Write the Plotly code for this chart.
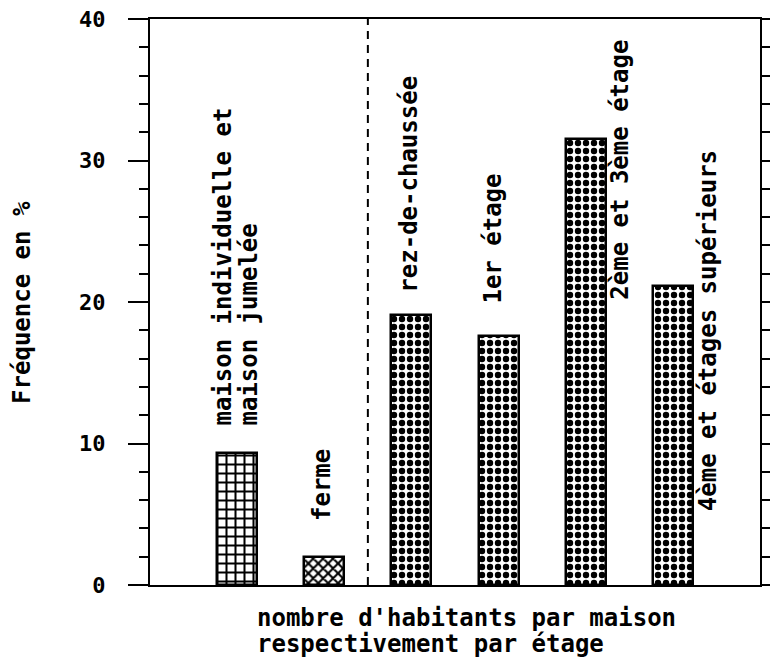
import plotly.graph_objects as go

# ---- data ----
categories = ["maison individuelle et maison jumelée", "ferme", "rez-de-chaussée",
              "1er étage", "2ème et 3ème étage", "4ème et étages supérieurs"]
frequencies = [9.3, 2.0, 19.1, 17.6, 31.5, 21.1]
y_ticks = [0, 10, 20, 30, 40]
y_title = "Fréquence en %"
x_title_lines = ["nombre d'habitants par maison", "respectivement par étage"]
separator_at = 1.5

FONT = "DejaVu Sans Mono"
FS = 24
fnt = dict(family=FONT, size=FS, color="black", weight="bold")

positions = list(range(len(categories)))
patterns = ["+", "x", ".", ".", ".", "."]
pat_sizes = [9, 7, 8, 8, 8, 8]
pat_sol = [0.4, 0.5, 0.5, 0.5, 0.5, 0.5]

fig = go.Figure()
fig.add_trace(go.Bar(
    x=positions, y=frequencies, width=0.46,
    marker=dict(color="white",
                line=dict(color="black", width=2.5),
                pattern=dict(shape=patterns, size=pat_sizes, solidity=pat_sol,
                             fgcolor="black", bgcolor="white", fillmode="replace")),
    hovertext=categories, showlegend=False,
))
fig.add_trace(go.Scatter(x=[None], y=[None], yaxis="y2", showlegend=False))

# bar labels: (text, index, anchor y, xshift, yshift)
label_cfg = [
    ("maison individuelle et", 0, frequencies[0], -14, 26),
    ("maison jumelée", 0, frequencies[0], 12, 26),
    ("ferme", 1, frequencies[1], -3, 34),
    ("rez-de-chaussée", 2, frequencies[2], -2, 20),
    ("1er étage", 3, frequencies[3], -6, 30),
    ("2ème et 3ème étage", 4, 20.0, 34, 0),
    ("4ème et étages supérieurs", 5, 5.1, 35, 0),
]
for text, i, yv, xs, ys in label_cfg:
    fig.add_annotation(x=positions[i], y=yv, text=text, textangle=-90,
                       xanchor="center", yanchor="bottom",
                       xshift=xs, yshift=ys, showarrow=False, font=fnt)

fig.add_annotation(xref="paper", yref="paper", x=-0.21, y=0.5, text=y_title,
                   textangle=-90, showarrow=False, xanchor="center", yanchor="middle",
                   font=fnt)
for line, yp in zip(x_title_lines, [-0.059, -0.105]):
    fig.add_annotation(xref="paper", yref="paper", x=0.172, y=yp, text=line,
                       showarrow=False, xanchor="left", yanchor="middle", font=fnt)

fig.add_shape(type="line", xref="x", yref="y", x0=separator_at, x1=separator_at,
              y0=0, y1=40, line=dict(color="black", width=2, dash="8px,6px"))

fig.update_layout(
    width=770, height=661,
    margin=dict(l=150, r=10, t=19, b=76, autoexpand=False),
    paper_bgcolor="white", plot_bgcolor="white",
    bargap=0,
    xaxis=dict(range=[-1, 6], showticklabels=False, ticks="", showgrid=False,
               zeroline=False, showline=True, linecolor="black", linewidth=2,
               mirror=True, automargin=False),
    yaxis=dict(range=[0, 40], tickvals=y_ticks, ticks="outside", ticklen=20,
               tickwidth=2, tickcolor="black", showgrid=False, zeroline=False,
               showline=True, linecolor="black", linewidth=2,
               ticklabelstandoff=18, ticklabeloverflow="allow", automargin=False,
               tickfont=dict(family=FONT, size=22, color="black", weight="bold"),
               minor=dict(dtick=2, ticks="outside", ticklen=9, tickwidth=2,
                          tickcolor="black", showgrid=False)),
    yaxis2=dict(range=[0, 40], overlaying="y", side="right", dtick=2,
                ticks="outside", ticklen=10, tickwidth=2, tickcolor="black",
                showticklabels=False, showgrid=False, zeroline=False,
                showline=True, linecolor="black", linewidth=2, automargin=False),
)

fig.write_html("out.html", config={"responsive": False, "displayModeBar": False},
               post_script="document.body.style.margin='0';document.body.style.overflow='hidden';")
